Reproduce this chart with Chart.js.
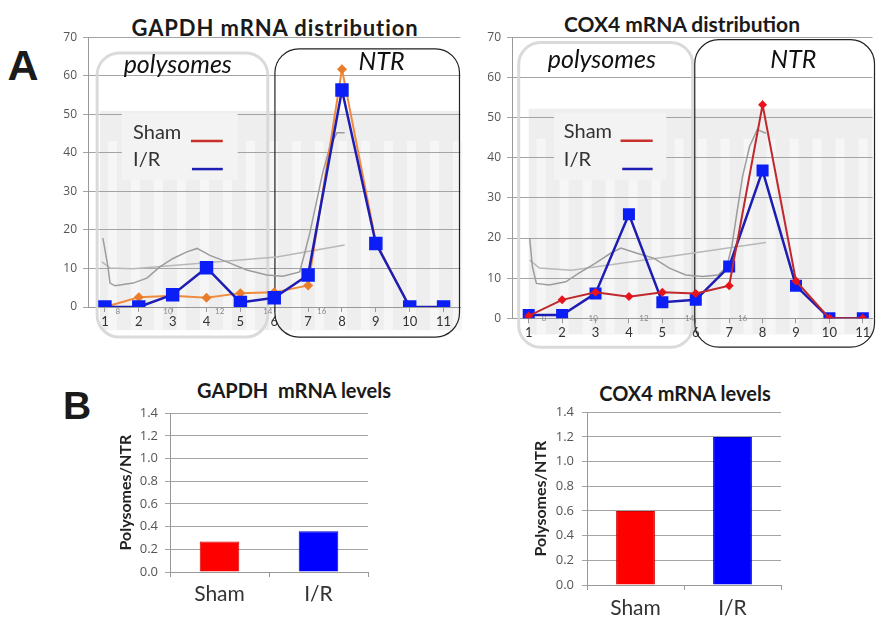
<!DOCTYPE html>
<html>
<head>
<meta charset="utf-8">
<script src="https://cdn.jsdelivr.net/npm/chart.js@4"></script>
<style>
  body { margin: 0; background: #fff; width: 881px; height: 618px; position: relative; overflow: hidden; font-family: Lato, sans-serif; }
  canvas { position: absolute; }
  .lbl { position: absolute; transform: translate(-50%, -50%); white-space: nowrap; color: #1a1a1a; line-height: 1; }
</style>
</head>
<body>
<div class="lbl" style="left:23px;top:65px;font:bold 43px 'Liberation Sans'">A</div>
<div class="lbl" style="left:77px;top:406px;font:bold 39px 'Liberation Sans'">B</div>
<div class="lbl" style="left:275px;top:28px;font-weight:bold;font-size:22px;letter-spacing:0.9px">GAPDH mRNA distribution</div>
<div class="lbl" style="left:682px;top:23px;font-weight:bold;font-size:21px">COX4 mRNA distribution</div>
<div class="lbl" style="left:294px;top:390px;font-weight:bold;font-size:20px">GAPDH&nbsp; mRNA levels</div>
<div class="lbl" style="left:685px;top:393px;font-weight:bold;font-size:20px">COX4 mRNA levels</div>

<canvas id="gapdhDist" width="470" height="345" style="left:0;top:0"></canvas>
<canvas id="cox4Dist" width="441" height="350" style="left:440px;top:0"></canvas>
<canvas id="gapdhBar" width="280" height="240" style="left:100px;top:370px"></canvas>
<canvas id="cox4Bar" width="290" height="250" style="left:510px;top:370px"></canvas>

<script>
// gradient fractions on the x axis
const fractions = [1, 2, 3, 4, 5, 6, 7, 8, 9, 10, 11];
const distTicks = [0, 10, 20, 30, 40, 50, 60, 70];

// % of mRNA per fraction
const gapdhSham = [0, 2.5, 2.9, 2.4, 3.6, 3.8, 5.6, 61.7, 16.8, 0, 0];
const gapdhIR   = [0, 0, 3.2, 10.2, 1.2, 2.4, 8.3, 56.3, 16.5, 0, 0];
const cox4Sham  = [0.6, 4.6, 6.5, 5.4, 6.5, 6.2, 8.1, 53.2, 9.3, 0, 0];
const cox4IR    = [0.8, 0.8, 6.2, 25.9, 4.0, 4.6, 12.9, 36.8, 8.1, 0, 0];

// absorbance trace of the gradient (grey, behind the data)
const gapdhTraceX = [0.94, 1.09, 1.15, 1.30, 1.83, 2.24, 2.62, 3.01, 3.42, 3.72, 4.10, 4.60, 5.19, 5.78, 6.25, 6.75, 6.90, 7.05, 7.26, 7.43, 7.64, 7.85, 8.08];
const gapdhTraceY = [17.9, 10.4, 6.2, 5.5, 6.2, 7.5, 10.4, 12.6, 14.3, 15.2, 13.4, 11.7, 9.6, 8.3, 8.0, 9.1, 14.0, 19.2, 27.8, 34.8, 41.5, 45.2, 45.2];
const gapdhBaseX  = [0.91, 1.15, 1.83, 6.07, 8.08];
const gapdhBaseY  = [11.7, 10.1, 9.9, 13.0, 16.1];
const cox4TraceX  = [1.03, 1.11, 1.23, 1.61, 2.11, 2.49, 2.99, 3.45, 3.76, 4.24, 4.74, 5.21, 5.70, 6.20, 6.67, 6.93, 7.08, 7.23, 7.40, 7.61, 7.84, 8.10];
const cox4TraceY  = [19.9, 12.9, 8.7, 8.3, 9.1, 11.2, 13.7, 16.2, 17.5, 16.2, 15.0, 12.5, 10.8, 10.4, 10.8, 12.9, 17.9, 26.2, 35.3, 42.8, 47.0, 46.1];
const cox4BaseX   = [1.03, 1.32, 2.28, 5.21, 8.10];
const cox4BaseY   = [14.5, 12.5, 12.0, 15.4, 18.9];

// small fraction numbers printed on the trace
const gapdhTubeX = [1.38, 2.86, 4.39, 5.81, 7.40];
const cox4TubeX  = [1.46, 2.93, 4.45, 5.82, 7.40];
const tubeLabels = ['8', '10', '12', '14', '16'];

// panel B
const groups = ['Sham', 'I/R'];
const gapdhRatio = [0.27, 0.36];
const cox4Ratio  = [0.60, 1.20];
const ratioTicks = [0, 0.2, 0.4, 0.6, 0.8, 1.0, 1.2, 1.4];

const BLUE_LINE = '#1d1db4';
const BLUE_PT = '#0a1ef5';
const FONT = 'Lato, sans-serif';
const TICK_FONT = '"Open Sans", sans-serif';

function pts(xs, ys) { return xs.map((x, i) => ({ x: x, y: ys[i] })); }

function roundRect(ctx, l, t, r, b, rad) {
  ctx.beginPath();
  ctx.moveTo(l + rad, t);
  ctx.arcTo(r, t, r, b, rad);
  ctx.arcTo(r, b, l, b, rad);
  ctx.arcTo(l, b, l, t, rad);
  ctx.arcTo(l, t, r, t, rad);
  ctx.closePath();
}

// background picture, boxes, legend and labels of panel A
const deco = {
  id: 'deco',
  beforeDraw(chart, args, o) {
    const { ctx } = chart, xs = chart.scales.x, ys = chart.scales.y;
    const L = xs.getPixelForValue(o.bg[0]), R = xs.getPixelForValue(o.bg[1]);
    const T = ys.getPixelForValue(o.bg[2]), B = ys.getPixelForValue(o.bg[3]);
    ctx.save();
    ctx.fillStyle = '#eeeeee';
    ctx.fillRect(L, T, R - L, B - T);
    ctx.fillStyle = '#f6f6f6';
    for (let x = L + 8; x < R - 4; x += 23) ctx.fillRect(x, T + 30, 9, B - T - 30);
    ctx.restore();
  },
  beforeDatasetsDraw(chart, args, o) {
    const { ctx } = chart, xs = chart.scales.x, ys = chart.scales.y;
    const px = v => xs.getPixelForValue(v), py = v => ys.getPixelForValue(v);
    ctx.save();
    // legend panel hides the grid
    ctx.fillStyle = '#f3f3f3';
    ctx.fillRect(px(o.legendBox[0]), py(o.legendBox[2]), px(o.legendBox[1]) - px(o.legendBox[0]), py(o.legendBox[3]) - py(o.legendBox[2]));
    // polysomes / NTR boxes
    const p = o.polyBox, n = o.ntrBox;
    ctx.strokeStyle = 'rgba(214,214,214,0.9)';
    ctx.lineWidth = 3;
    roundRect(ctx, px(p[0]), py(p[2]), px(p[1]), py(p[3]), 22);
    ctx.stroke();
    ctx.strokeStyle = '#222';
    ctx.lineWidth = 1.2;
    roundRect(ctx, px(n[0]), py(n[2]), px(n[1]), py(n[3]), 24);
    ctx.stroke();
    ctx.fillStyle = '#111';
    ctx.font = 'italic 25px ' + FONT;
    ctx.textAlign = 'center';
    ctx.textBaseline = 'middle';
    ctx.fillText('polysomes', px(o.polyLabel[0]), py(o.polyLabel[1]));
    ctx.fillText('NTR', px(o.ntrLabel[0]), py(o.ntrLabel[1]));
    // legend
    ctx.font = '20px ' + FONT;
    ctx.fillStyle = '#333';
    ctx.textAlign = 'left';
    o.legend.forEach(e => {
      ctx.fillText(e.text, px(e.tx), py(e.ty));
      ctx.strokeStyle = e.color;
      ctx.lineWidth = 2.5;
      ctx.beginPath();
      ctx.moveTo(px(e.l0), py(e.ly));
      ctx.lineTo(px(e.l1), py(e.ly));
      ctx.stroke();
    });
    // fraction numbers of the trace
    ctx.font = '8px ' + FONT;
    ctx.fillStyle = '#888';
    ctx.textAlign = 'center';
    o.tubeX.forEach((v, i) => ctx.fillText(tubeLabels[i], px(v), ys.bottom + o.tubeDy));
    ctx.restore();
  }
};

function distChart(id, cfg) {
  const irSet = {
    label: 'I/R', data: pts(fractions, cfg.ir), borderColor: BLUE_LINE, borderWidth: 2.5,
    pointStyle: 'rect', pointRadius: cfg.sq, pointBackgroundColor: BLUE_PT, pointBorderWidth: 0,
    order: cfg.shamOnTop ? 1 : 0
  };
  const shamSet = {
    label: 'Sham', data: pts(fractions, cfg.sham), borderColor: cfg.shamLine, borderWidth: 2,
    pointStyle: 'rectRot', pointRadius: cfg.dia, pointBackgroundColor: cfg.shamPoint, pointBorderWidth: 0,
    order: cfg.shamOnTop ? 0 : 1
  };
  const traceSet = {
    data: pts(cfg.traceX, cfg.traceY), borderColor: '#9c9c9c', borderWidth: 1.5, pointRadius: 0, order: 5
  };
  const baseSet = {
    data: pts(cfg.baseX, cfg.baseY), borderColor: '#b8b8b8', borderWidth: 1.5, pointRadius: 0, order: 6
  };
  return new Chart(document.getElementById(id), {
    type: 'line',
    data: { datasets: [irSet, shamSet, traceSet, baseSet] },
    plugins: [deco],
    options: {
      responsive: false,
      animation: false,
      layout: { padding: cfg.pad },
      plugins: { legend: { display: false }, tooltip: { enabled: false }, deco: cfg.deco },
      scales: {
        x: {
          type: 'linear', min: 0.5, max: cfg.xMax,
          afterBuildTicks(s) { s.ticks = fractions.map(v => ({ value: v })); },
          afterFit(s) { s.height = cfg.xH; },
          grid: { drawOnChartArea: false, tickLength: 5, color: '#999' },
          border: { color: '#999' },
          ticks: { color: '#333', font: { family: FONT, size: 13 }, padding: 2, maxRotation: 0 }
        },
        y: {
          min: 0, max: 70,
          afterBuildTicks(s) { s.ticks = distTicks.map(v => ({ value: v })); },
          afterFit(s) { s.width = cfg.yW; },
          grid: { color: '#a4a4a4', tickLength: 5 },
          border: { color: '#999' },
          ticks: { color: '#555', font: { family: TICK_FONT, size: 12 }, padding: 6 }
        }
      }
    }
  });
}

distChart('gapdhDist', {
  ir: gapdhIR, sham: gapdhSham, shamLine: '#ef8a3e', shamPoint: '#ea7d2c', shamOnTop: false, sq: 9.5, dia: 5,
  traceX: gapdhTraceX, traceY: gapdhTraceY, baseX: gapdhBaseX, baseY: gapdhBaseY,
  xMax: 11.5, xH: 38, yW: 88, pad: { top: 37.3, right: 9, bottom: 0, left: 0 },
  deco: {
    bg: [0.85, 11.5, 50.9, -6],
    legendBox: [1.5, 4.92, 50.3, 33],
    polyBox: [0.77, 5.81, 65.9, -7.8], ntrBox: [6.02, 11.47, 67, -7.8],
    polyLabel: [3.15, 62.8], ntrLabel: [9.17, 63.6],
    legend: [
      { text: 'Sham', tx: 1.83, ty: 45.4, l0: 3.54, l1: 4.48, ly: 43.1, color: '#c8302c' },
      { text: 'I/R', tx: 1.83, ty: 38.2, l0: 3.57, l1: 4.48, ly: 35.8, color: BLUE_LINE }
    ],
    tubeX: gapdhTubeX, tubeDy: 4
  }
});

distChart('cox4Dist', {
  ir: cox4IR, sham: cox4Sham, shamLine: '#c0282d', shamPoint: '#e8141c', shamOnTop: true, sq: 8.5, dia: 4.5,
  traceX: cox4TraceX, traceY: cox4TraceY, baseX: cox4BaseX, baseY: cox4BaseY,
  xMax: 11.29, xH: 31.7, yW: 72, pad: { top: 37.3, right: 0, bottom: 0, left: 0 },
  deco: {
    bg: [1.0, 11.29, 52.2, -4],
    legendBox: [1.76, 5.12, 51.2, 34.5],
    polyBox: [0.70, 5.91, 68.7, -7.2], ntrBox: [5.97, 11.35, 69.4, -7.2],
    polyLabel: [3.19, 64.4], ntrLabel: [8.92, 64.4],
    legend: [
      { text: 'Sham', tx: 2.05, ty: 46.5, l0: 3.75, l1: 4.71, ly: 44.2, color: '#c8302c' },
      { text: 'I/R', tx: 2.05, ty: 39.5, l0: 3.80, l1: 4.71, ly: 37.2, color: BLUE_LINE }
    ],
    tubeX: cox4TubeX, tubeDy: 0
  }
});

function ratioChart(id, values, cfg) {
  return new Chart(document.getElementById(id), {
    type: 'bar',
    data: {
      labels: groups,
      datasets: [{
        data: values, backgroundColor: ['#ff0000', '#0000ff'], borderColor: ['#d00000', '#0000cc'],
        borderWidth: 1, categoryPercentage: 1, barPercentage: 0.4
      }]
    },
    options: {
      responsive: false,
      animation: false,
      layout: { padding: cfg.pad },
      plugins: { legend: { display: false }, tooltip: { enabled: false } },
      scales: {
        x: {
          afterFit(s) { s.height = cfg.xH; },
          grid: { drawOnChartArea: false, tickLength: 5, color: '#999' },
          border: { color: '#999' },
          ticks: { color: '#333', font: { family: FONT, size: 21 }, padding: cfg.xPad }
        },
        y: {
          min: 0, max: 1.4,
          afterBuildTicks(s) { s.ticks = ratioTicks.map(v => ({ value: v })); },
          afterFit(s) { s.width = cfg.yW; },
          grid: { color: '#a4a4a4', tickLength: 5 },
          border: { color: '#999' },
          ticks: { color: '#555', font: { family: TICK_FONT, size: 13 }, padding: cfg.yPad, callback: v => v.toFixed(1) },
          title: {
            display: true, text: 'Polysomes/NTR', color: '#222',
            font: { family: FONT, size: 16, weight: 'bold' }, padding: { top: cfg.titlePad, bottom: 0 }
          }
        }
      }
    }
  });
}

ratioChart('gapdhBar', gapdhRatio, { pad: { top: 43.3, right: 12, bottom: 0, left: 0 }, xH: 38, yW: 70, xPad: 5, yPad: 7, titlePad: 16 });
ratioChart('cox4Bar', cox4Ratio, { pad: { top: 42.3, right: 19, bottom: 0, left: 0 }, xH: 35, yW: 77, xPad: 6, yPad: 8, titlePad: 21 });
</script>
</body>
</html>
